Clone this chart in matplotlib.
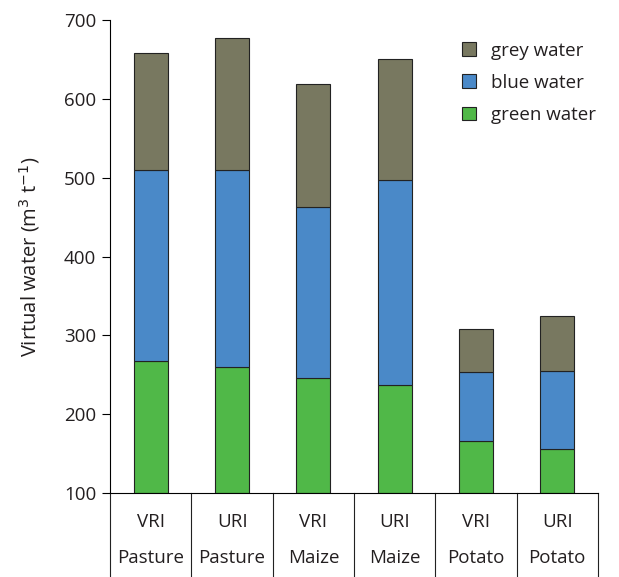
import matplotlib
matplotlib.use("Agg")
import matplotlib.pyplot as plt
import numpy as np

# values (m3 per t), bars stacked from the 100 baseline
systems = ["VRI", "URI", "VRI", "URI", "VRI", "URI"]
crops = ["Pasture", "Pasture", "Maize", "Maize", "Potato", "Potato"]
green_top = [267, 260, 246, 237, 166, 156]
blue_top = [510, 510, 463, 497, 253, 255]
grey_top = [659, 677, 619, 651, 308, 324]

BASE = 100
COLORS = {"green": "#50b848", "blue": "#4a89c8", "grey": "#787860"}

plt.rcParams["font.family"] = ["Open Sans", "DejaVu Sans"]

fig = plt.figure(figsize=(6.19, 5.77), dpi=100)
ax = fig.add_axes([0.178, 0.1456, 0.788, 0.8194])

x = np.arange(len(systems))
w = 0.42
green = np.array(green_top) - BASE
blue = np.array(blue_top) - np.array(green_top)
grey = np.array(grey_top) - np.array(blue_top)

kw = dict(width=w, edgecolor="#222222", linewidth=0.8)
b1 = ax.bar(x, green, bottom=BASE, color=COLORS["green"], label="green water", **kw)
b2 = ax.bar(x, blue, bottom=green_top, color=COLORS["blue"], label="blue water", **kw)
b3 = ax.bar(x, grey, bottom=blue_top, color=COLORS["grey"], label="grey water", **kw)

ax.set_xlim(-0.5, len(systems) - 0.5)
ax.set_ylim(100, 700)
ax.set_yticks(range(100, 701, 100))
ax.tick_params(axis="y", direction="out", length=6, width=0.8, labelsize=13.5,
               pad=4, labelcolor="#231f20")
ax.set_xticks([])
ax.set_ylabel("Virtual water (m$^3$ t$^{-1}$)", fontsize=14.5, labelpad=16,
              color="#231f20")

for s in ("top", "right"):
    ax.spines[s].set_visible(False)
ax.spines["left"].set_linewidth(0.8)
ax.spines["bottom"].set_linewidth(0.8)

# table-like category labels below the axis
depth = 84 / 473
trans = ax.get_xaxis_transform()
for b in np.arange(-0.5, len(systems)):
    ax.plot([b, b], [0, -depth], transform=trans, color="#222222",
            lw=0.8, clip_on=False)
for i in range(len(systems)):
    ax.text(i, -0.062, systems[i], transform=trans, ha="center", va="center",
            fontsize=13.5, color="#231f20")
    ax.text(i, -0.138, crops[i], transform=trans, ha="center", va="center",
            fontsize=13.5, color="#231f20")

leg = ax.legend(handles=[b3, b2, b1], loc="upper right", frameon=False,
                fontsize=13.5, handlelength=0.75, handleheight=0.75,
                handletextpad=0.8, labelspacing=0.75,
                bbox_to_anchor=(1.03, 0.99))
for t in leg.get_texts():
    t.set_color("#231f20")

fig.savefig("out.png", dpi=100)
